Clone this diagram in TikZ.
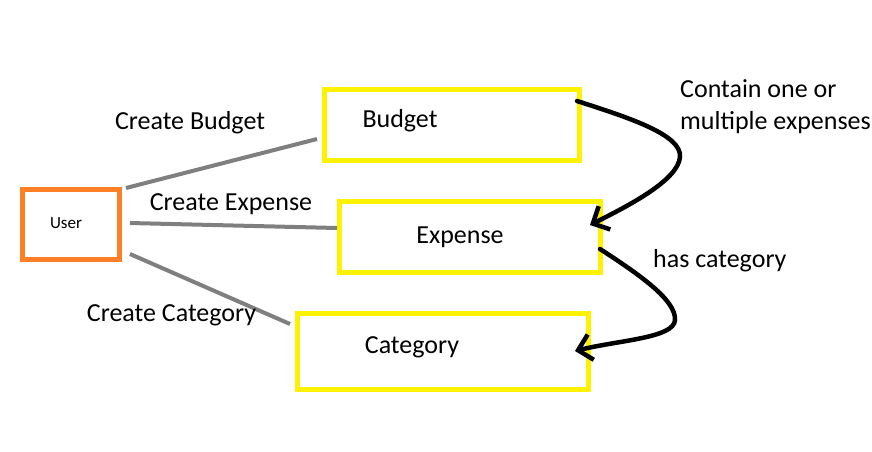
\documentclass[tikz,border=0pt]{standalone}
\usepackage{fontspec}
\setmainfont{Carlito}
\usetikzlibrary{arrows.meta}
\usetikzlibrary{calc}
\definecolor{boxyellow}{RGB}{255,242,0}
\definecolor{userorange}{RGB}{255,127,39}
\definecolor{linkgray}{RGB}{127,127,127}

\begin{document}
\begin{tikzpicture}[x=1pt,y=-1pt]
	\tikzset{entity/.style={draw=boxyellow,line width=5pt,minimum height=71pt,inner sep=0pt,outer sep=0pt}}
	\tikzset{actor/.style={draw=userorange,line width=5pt,minimum width=97pt,minimum height=70pt,inner sep=0pt,outer sep=0pt}}
	\tikzset{txt/.style={font=\fontsize{26}{32}\selectfont,inner sep=0pt}}
	\tikzset{link/.style={draw=linkgray,line width=4pt}}
	\tikzset{rel/.style={draw=black,line width=4.5pt,line cap=round,-{Straight Barb[length=13pt,width=26pt]}}}
	
	\useasboundingbox (0,0) rectangle (872,451);
	
	% Boxes
	\node[actor] (user) at (71,224.5) {};
	\node[entity,minimum width=255pt] (budget) at (452,125) {};
	\node[entity,minimum width=261pt] (expense) at (470,237) {};
	\node[entity,minimum width=291pt,minimum height=76pt] (category) at (443,351.5) {};
	
	% Box texts
	\node[inner sep=0pt,anchor=base,font=\fontsize{17}{20}\selectfont] (userlbl) at (66,228) {User};
	\node[txt,anchor=base] (budgetlbl) at (400,127) {Budget};
	\node[txt,anchor=base] (expenselbl) at (460,243) {Expense};
	\node[txt,anchor=base] (categorylbl) at (412,353) {Category};
	
	% Lines from the user
	\draw[link] ($(user.north east)+(6.5,-1.5)$) -- ($(budget.west)+(-7.5,14)$);
	\draw[link] ($(user.east)+(10.5,-1.5)$) -- ($(expense.west)+(-2.5,-9)$);
	\draw[link] ($(user.south east)+(10.5,-5.5)$) -- ($(category.north west)+(-7.5,10.5)$);
	
	% Line labels
	\node[txt,anchor=base] (mkbudget) at (190,129) {Create Budget};
	\node[txt,anchor=base] (mkexpense) at (231,210) {Create Expense};
	\node[txt,anchor=base] (mkcategory) at (171.5,321) {Create Category};
	
	% Relations
	\draw[rel] ($(budget.north east)+(-2.5,11.5)$) .. controls (630,118) and (682,135) .. (680,157)
		.. controls (678,180) and (630,205) .. ($(expense.east)+(-10.5,-12)$);
	\draw[rel] ($(expense.east)+(-0.5,12)$) .. controls (640,275) and (676,300) .. (675,320)
		.. controls (674,338) and (620,340) .. ($(category.east)+(-13.5,-0.5)$);
	
	% Relation labels
	\node[txt,anchor=base west,align=left] (contains) at (680,129) {Contain one or\\multiple expenses};
	\node[txt,anchor=base west] (hascat) at (653,267) {has category};
	
\end{tikzpicture}
\end{document}
